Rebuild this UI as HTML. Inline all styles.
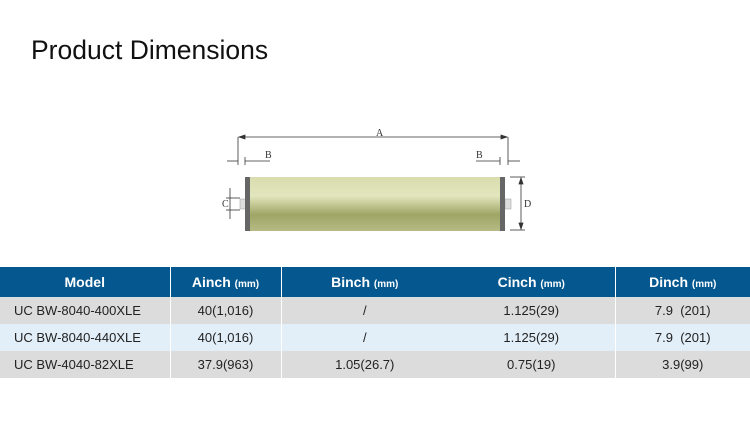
<!DOCTYPE html>
<html><head><style>
body{margin:0;width:750px;height:421px;background:#fff;position:relative;overflow:hidden;font-family:"Liberation Sans",sans-serif}
.t{position:absolute;left:31px;top:35px;font-size:26.5px;color:#111}
table{position:absolute;left:0;top:267px;width:750px;border-collapse:collapse;font-size:13px;color:#222;table-layout:fixed}
th{background:#05588f;color:#fff;height:30px;padding:0;font-size:14px;font-weight:bold;border-left:1px solid #fff;line-height:16px;box-sizing:border-box}
th small{font-size:10px;font-weight:bold;line-height:10px}
td{height:27px;padding:0;line-height:16px;text-align:center;border-left:1px solid #fff}
tr.g td{background:#dcdcdc}tr.b td{background:#e2eef8}
th:first-child,td:first-child{border-left:none}
th:nth-child(4),td:nth-child(4){border-left:none}
td:first-child{text-align:left;padding-left:14px}
</style></head><body>
<div class="t">Product Dimensions</div>
<svg style="position:absolute;left:0;top:0" width="750" height="267">
<defs><linearGradient id="g" x1="0" y1="0" x2="0" y2="1">
<stop offset="0" stop-color="#d9dcae"/><stop offset=".35" stop-color="#e2e6bd"/><stop offset=".7" stop-color="#9ea565"/><stop offset="1" stop-color="#b6bb85"/></linearGradient></defs>
<g stroke="#333" stroke-width="0.8" fill="#333" font-family="Liberation Serif" font-size="10">
<line x1="238" y1="137" x2="238" y2="165"/><line x1="508" y1="137" x2="508" y2="165"/>
<line x1="239" y1="137" x2="507" y2="137"/>
<polygon points="239,137 245,135 245,139"/><polygon points="507,137 501,135 501,139"/>
<text x="376" y="136" stroke="none">A</text>
<line x1="245" y1="157" x2="245" y2="165"/><line x1="500" y1="157" x2="500" y2="165"/>
<line x1="227" y1="161" x2="238" y2="161"/><line x1="245" y1="161" x2="270" y2="161"/>
<line x1="476" y1="161" x2="500" y2="161"/><line x1="508" y1="161" x2="520" y2="161"/>
<text x="265" y="158" stroke="none">B</text><text x="476" y="158" stroke="none">B</text>
<line x1="510" y1="177" x2="525" y2="177"/><line x1="510" y1="230" x2="525" y2="230"/>
<line x1="521" y1="178" x2="521" y2="229"/>
<polygon points="521,178 519,184 523,184"/><polygon points="521,229 519,223 523,223"/>
<line x1="230" y1="188" x2="230" y2="219"/><line x1="226" y1="198" x2="240" y2="198"/><line x1="226" y1="210" x2="240" y2="210"/>
<text x="222" y="207" stroke="none">C</text><text x="524" y="207" stroke="none">D</text>
</g>
<rect x="240" y="199" width="6" height="10" fill="#ddd" stroke="#999" stroke-width=".5"/>
<rect x="505" y="199" width="6" height="10" fill="#ddd" stroke="#999" stroke-width=".5"/>
<rect x="246" y="177" width="259" height="54" fill="url(#g)"/>
<rect x="245" y="177" width="5" height="54" fill="#666"/><rect x="500" y="177" width="5" height="54" fill="#666"/>
</svg>
<table>
<colgroup><col style="width:170px"><col style="width:111px"><col style="width:167px"><col style="width:167px"><col style="width:135px"></colgroup>
<tr><th>Model</th><th>Ainch <small>(mm)</small></th><th>Binch <small>(mm)</small></th><th>Cinch <small>(mm)</small></th><th>Dinch <small>(mm)</small></th></tr>
<tr class="g"><td>UC BW-8040-400XLE</td><td>40(1,016)</td><td>/</td><td>1.125(29)</td><td>7.9 &nbsp;(201)</td></tr>
<tr class="b"><td>UC BW-8040-440XLE</td><td>40(1,016)</td><td>/</td><td>1.125(29)</td><td>7.9 &nbsp;(201)</td></tr>
<tr class="g"><td>UC BW-4040-82XLE</td><td>37.9(963)</td><td>1.05(26.7)</td><td>0.75(19)</td><td>3.9(99)</td></tr>
</table>
</body></html>
